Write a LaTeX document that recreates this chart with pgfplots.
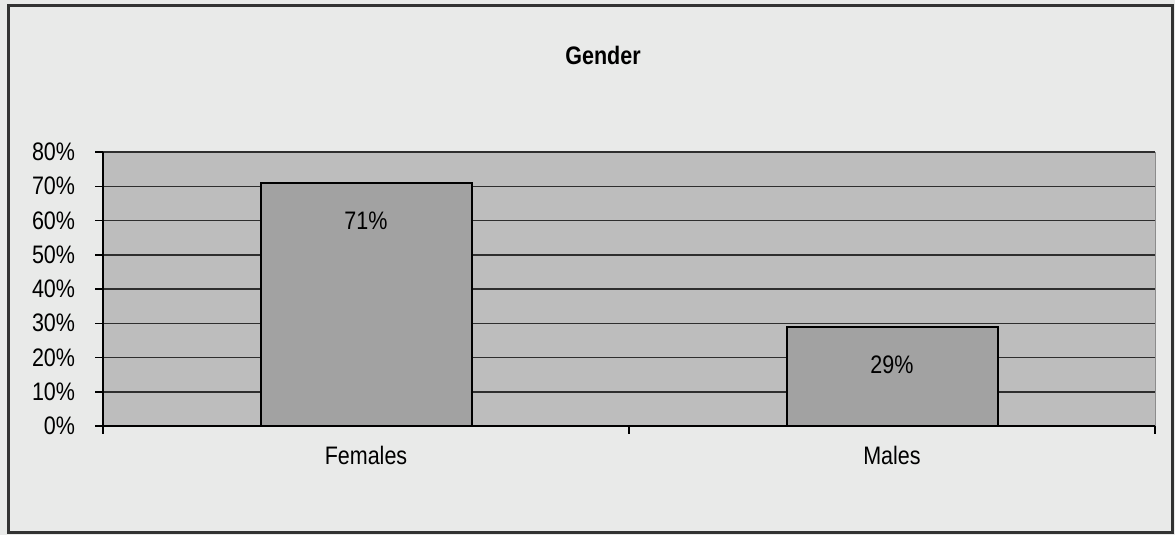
\documentclass[border=0pt]{standalone}
\usepackage{fontspec}
\setmainfont{Liberation Sans}[FakeStretch=0.85]
\usepackage{pgfplots}
\pgfplotsset{compat=1.18}

\definecolor{pagebg}{HTML}{E9EAE9}
\definecolor{plotbg}{HTML}{BDBDBD}
\definecolor{barfill}{HTML}{A2A2A2}
\definecolor{gridc}{HTML}{2E2E2E}

\begin{document}
\begin{tikzpicture}[x=0.1mm, y=0.1mm, font=\fontsize{7.2}{8}\selectfont]
  % page background and outer frame (1 unit = 1 px of the reference)
  \fill[pagebg] (0,0) rectangle (1175,535);
  \draw[line width=0.3mm, black!80] (8,3) rectangle (1172,530);
  \node[font=\fontsize{7.2}{8}\selectfont\bfseries] at (603,480) {Gender};

  \begin{axis}[
      at={(10.3mm,10.9mm)}, anchor=south west,
      scale only axis,
      width=105.2mm, height=27.4mm,
      xmin=-0.5, xmax=1.5,
      ymin=0, ymax=80,
      axis background/.style={fill=plotbg},
      axis line style={line width=0.15mm, black},
      axis x line*=bottom, axis y line*=left,
      xtick={-0.5,0.5,1.5}, xticklabels={},
      extra x ticks={0,1},
      extra x tick labels={Females, Males},
      extra x tick style={major tick length=0pt, grid=none},
      xticklabel style={yshift=-0.75mm},
      ytick={0,10,...,80},
      yticklabel={\pgfmathprintnumber{\tick}\%},
      /pgf/number format/assume math mode=true,
      yticklabel style={xshift=-0.8mm},
      tick align=outside, major tick length=0.75mm,
      tick style={line width=0.15mm, black},
      ymajorgrids,
      grid style={line width=0.15mm, gridc},
      ybar, bar width=21.1mm,
      point meta=explicit symbolic,
      nodes near coords,
      every node near coord/.style={anchor=north, yshift=-1.6mm, font=\fontsize{7.2}{8}\selectfont},
      clip=false,
    ]
    \addplot[fill=barfill, draw=black, line width=0.2mm] coordinates {
      (0,71) [71\%]
      (1,29) [29\%]
    };
    \draw[line width=0.1mm, black!45] (axis cs:1.5,0) -- (axis cs:1.5,80);
  \end{axis}
\end{tikzpicture}
\end{document}
